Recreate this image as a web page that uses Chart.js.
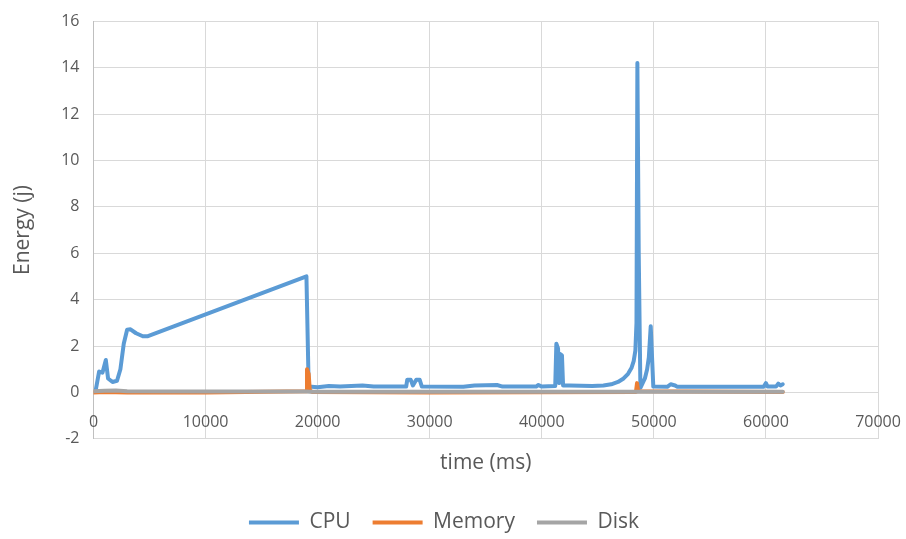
<!DOCTYPE html>
<html>
<head>
<meta charset="utf-8">
<script src="https://cdn.jsdelivr.net/npm/chart.js@4/dist/chart.umd.min.js"></script>
<style>
html,body{margin:0;padding:0;background:#fff;}
#wrap{width:906px;height:539px;}
</style>
</head>
<body>
<div id="wrap"><canvas id="c" width="906" height="539"></canvas></div>
<script>
const xTicks = [0, 10000, 20000, 30000, 40000, 50000, 60000, 70000];
const yTicks = [-2, 0, 2, 4, 6, 8, 10, 12, 14, 16];
const seriesNames = ["CPU", "Memory", "Disk"];

const cpuTime = [200, 500, 800, 1100, 1300, 1700, 2100, 2400, 2700, 3000, 3300, 3800, 4400, 4800,
  19000, 19200, 20000, 21000, 22000, 23000, 24000, 25000, 27900, 28000, 28300, 28500, 28800, 29100, 29300,
  33000, 34000, 36000, 36500, 39500, 39700, 40000, 41200, 41300, 41450, 41550, 41650, 41800, 41900, 42500,
  44500, 45500, 46200, 46800, 47300, 47700, 48000, 48200, 48350, 48450, 48530, 48650, 48800,
  49000, 49200, 49400, 49550, 49720, 49950, 51200, 51500, 51900, 52100, 59800, 60000, 60150, 60900, 61100, 61300, 61500];
const cpuEnergy = [0.1, 0.9, 0.85, 1.4, 0.6, 0.45, 0.5, 1.0, 2.1, 2.7, 2.72, 2.55, 2.42, 2.42,
  5.0, 0.25, 0.22, 0.28, 0.25, 0.28, 0.3, 0.25, 0.25, 0.55, 0.55, 0.3, 0.55, 0.55, 0.25,
  0.24, 0.3, 0.32, 0.25, 0.25, 0.32, 0.25, 0.28, 2.1, 1.9, 0.4, 1.65, 1.6, 0.3, 0.3,
  0.28, 0.3, 0.35, 0.45, 0.6, 0.8, 1.05, 1.35, 1.8, 3.0, 14.2, 6.0, 0.2,
  0.4, 0.6, 1.0, 1.5, 2.85, 0.25, 0.24, 0.35, 0.3, 0.24, 0.24, 0.4, 0.25, 0.25, 0.38, 0.3, 0.35];

const memTime = [0, 1000, 3000, 10000, 19000, 19050, 19200, 19300, 19500, 30000, 48400, 48500, 48600, 61500];
const memEnergy = [0.0, 0.02, 0.0, 0.0, 0.05, 1.0, 0.8, 0.1, 0.02, 0.0, 0.02, 0.4, 0.05, 0.02];

const diskTime = [0, 1000, 2000, 3000, 10000, 19000, 19300, 30000, 48500, 61500];
const diskEnergy = [0.05, 0.07, 0.08, 0.05, 0.04, 0.04, 0.03, 0.03, 0.03, 0.03];

const colors = ["#5b9bd5", "#ed7d31", "#a5a5a5"];
const txt = "#595959";
const fam = "'Open Sans', 'Liberation Sans', sans-serif";

function pts(t, v) { return t.map((x, i) => ({ x: x, y: v[i] })); }

const xLabelPlugin = {
  id: 'xLabelPlugin',
  afterDraw(chart) {
    const xs = chart.scales.x, ys = chart.scales.y;
    const ctx = chart.ctx;
    const y0 = ys.getPixelForValue(0);
    ctx.save();
    ctx.font = "16px " + fam;
    ctx.fillStyle = txt;
    ctx.textAlign = "center";
    ctx.textBaseline = "middle";
    xTicks.forEach(v => {
      ctx.fillText(String(v), xs.getPixelForValue(v), y0 + 30);
    });
    ctx.restore();
  }
};

new Chart(document.getElementById('c'), {
  type: 'line',
  data: {
    datasets: [
      { label: seriesNames[0], data: pts(cpuTime, cpuEnergy), borderColor: colors[0], backgroundColor: colors[0], order: 3 },
      { label: seriesNames[1], data: pts(memTime, memEnergy), borderColor: colors[1], backgroundColor: colors[1], order: 2 },
      { label: seriesNames[2], data: pts(diskTime, diskEnergy), borderColor: colors[2], backgroundColor: colors[2], order: 1 }
    ]
  },
  options: {
    responsive: false,
    animation: false,
    elements: {
      point: { radius: 0, hoverRadius: 0 },
      line: { borderWidth: 4, tension: 0, borderJoinStyle: 'round', borderCapStyle: 'round' }
    },
    layout: { padding: { top: 0, right: 28, left: 10, bottom: -4 } },
    scales: {
      x: {
        type: 'linear', min: 0, max: 70000,
        afterBuildTicks: s => { s.ticks = xTicks.map(v => ({ value: v })); },
        grid: { color: '#d9d9d9', drawTicks: false },
        border: { display: false },
        ticks: { display: false },
        title: { display: true, text: 'time (ms)', color: txt, font: { family: fam, size: 21 }, padding: { top: 12, bottom: 14 } }
      },
      y: {
        min: -2, max: 16,
        afterBuildTicks: s => { s.ticks = yTicks.map(v => ({ value: v })); },
        grid: { color: '#d9d9d9', drawTicks: false },
        border: { color: '#bfbfbf' },
        ticks: { color: txt, font: { family: fam, size: 16, lineHeight: 0.9 }, padding: 14 },
        title: { display: true, text: 'Energy (j)', color: txt, font: { family: fam, size: 21 }, padding: { top: 0, bottom: 12 } }
      }
    },
    plugins: {
      legend: {
        position: 'bottom',
        labels: {
          color: txt, font: { family: fam, size: 21 }, boxWidth: 50, boxHeight: 4, padding: 22,
          sort: (a, b) => a.datasetIndex - b.datasetIndex,
          generateLabels: chart => Chart.defaults.plugins.legend.labels.generateLabels(chart).map(l => Object.assign(l, { lineWidth: 0 }))
        }
      },
      tooltip: { enabled: false }
    }
  },
  plugins: [xLabelPlugin]
});
</script>
</body>
</html>
